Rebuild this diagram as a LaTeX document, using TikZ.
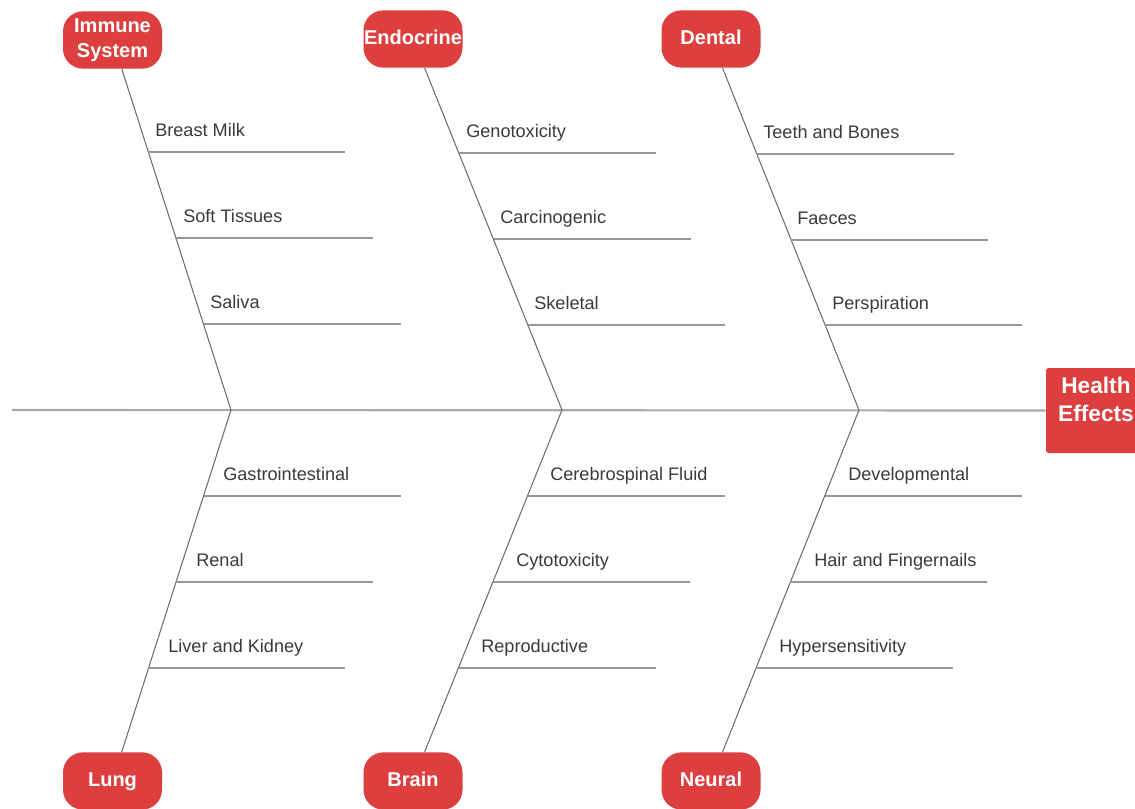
\documentclass[tikz,border=0pt]{standalone}
\usepackage{fontspec}
\setmainfont{Liberation Sans}
\definecolor{fbred}{RGB}{221,62,62}
\definecolor{fbtext}{RGB}{58,58,58}
\definecolor{fbbone}{RGB}{110,110,110}
\definecolor{fbrib}{RGB}{150,150,150}
\definecolor{fbspine}{RGB}{170,170,170}
\tikzset{
  cause/.style={fill=fbred, draw=none, rounded corners=15pt, minimum width=74.25pt,
    minimum height=43pt, inner sep=0pt, text=white, font=\fontsize{15}{18.75}\selectfont\bfseries,
    align=center},
  oneline/.style={text height=11pt, text depth=3pt},
  effectbox/.style={fill=fbred, draw=none, rounded corners=2pt, minimum width=75pt,
    minimum height=63.75pt, inner sep=0pt},
  effecttext/.style={text=white, font=\fontsize{17}{21}\selectfont\bfseries, align=center, inner sep=0pt},
  bone/.style={draw=fbbone, line width=0.8pt},
  rib/.style={draw=fbrib, line width=1pt},
  spine/.style={draw=fbspine, line width=1.6pt},
  riblabel/.style={anchor=base west, inner sep=0pt, text=fbtext, font=\fontsize{13.6}{16}\selectfont}
}
\begin{document}
\begin{tikzpicture}[x=0.75pt, y=-0.75pt]
\useasboundingbox (0,0) rectangle (1135,808);
% cause nodes
\node[cause] (imm) at (112.5,40) {Immune\\System};
\node[cause, oneline] (endo) at (413,39) {Endocrine};
\node[cause, oneline] (dent) at (711,39) {Dental};
\node[cause, oneline] (lung) at (112.5,781) {Lung};
\node[cause, oneline] (brain) at (413,781) {Brain};
\node[cause, oneline] (neur) at (711,781) {Neural};
% effect
\node[effectbox] (hf) at (1096,410.5) {};
\node[effecttext] (hft) at (1096,399) {Health\\Effects};
% spine
\coordinate (tail) at (12,410);
\coordinate (J1) at (231,410);
\coordinate (J2) at (562,410);
\coordinate (J3) at (859,410);
\draw[spine] (tail) -- (hf.west);
% bones
\draw[bone] (J1) -- (imm);
\draw[bone] (J1) -- (lung);
\draw[bone] (J2) -- (endo);
\draw[bone] (J2) -- (brain);
\draw[bone] (J3) -- (dent);
\draw[bone] (J3) -- (neur);
% ribs: start x, y, text x, label
\foreach \sx/\yy/\tx/\lab [count=\i] in {
  148.4/152/155/Breast Milk,
  176/238/183/Soft Tissues,
  203.5/324/210/Saliva,
  459.2/153/466/Genotoxicity,
  493.6/239/500/Carcinogenic,
  528/325/534/Skeletal,
  756.6/154/763/Teeth and Bones,
  791/240/797/Faeces,
  825/325/832/Perspiration,
  203.5/496/223/Gastrointestinal,
  176/582/196/Renal,
  148.4/668/168/Liver and Kidney,
  527.6/496/550/Cerebrospinal Fluid,
  493.2/582/516/Cytotoxicity,
  458.8/668/481/Reproductive,
  825/496/848/Developmental,
  790.2/582/814/Hair and Fingernails,
  756/668/779/Hypersensitivity}{
  \coordinate (rs\i) at (\sx,\yy);
  \coordinate (re\i) at ({\sx+197},\yy);
  \draw[rib] (rs\i) -- (re\i);
  \node[riblabel] (rl\i) at (\tx,{\yy-16}) {\lab};
}
\end{tikzpicture}
\end{document}
